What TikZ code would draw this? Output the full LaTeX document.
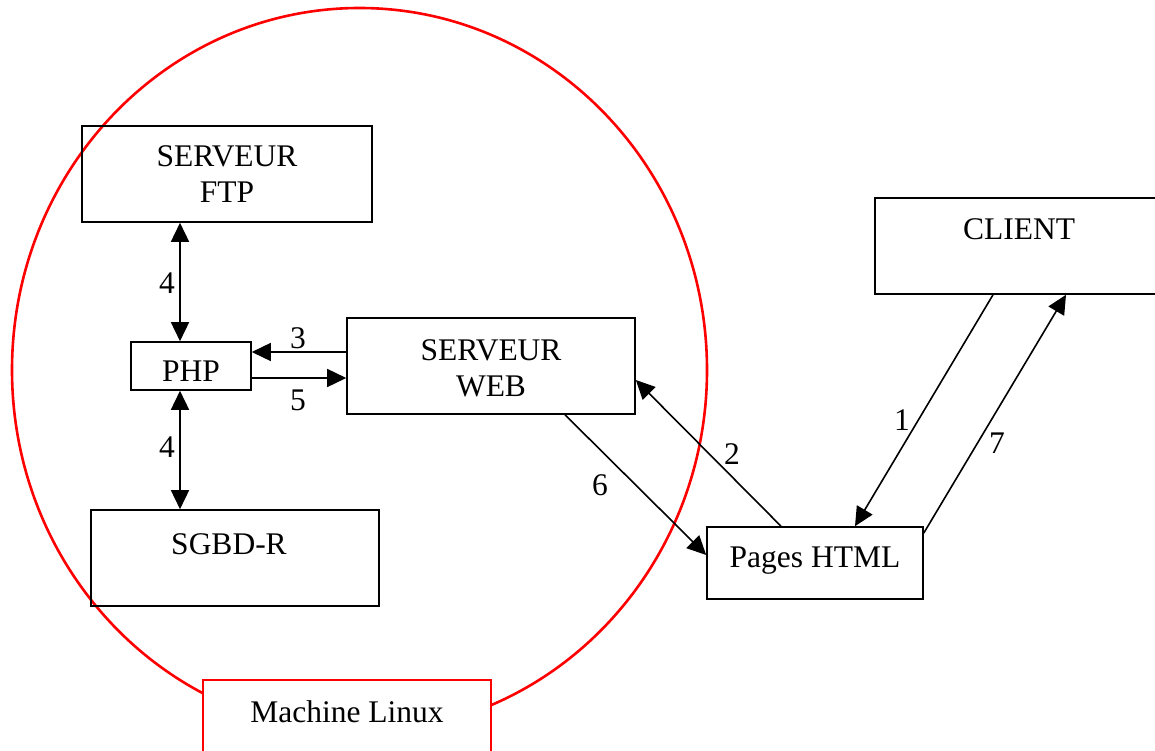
\documentclass[tikz,border=0pt]{standalone}
\usepackage{fontspec}
\setmainfont{Liberation Serif}
\usetikzlibrary{arrows.meta}

\tikzset{
  box/.style={draw=black, line width=1.6pt, inner sep=0pt},
  redbox/.style={draw=red, line width=2.6pt, fill=white, inner sep=0pt},
  txt/.style={inner sep=0pt, anchor=base, font=\fontsize{31.5}{35}\selectfont},
  num/.style={inner sep=0pt, font=\fontsize{31.5}{35}\selectfont},
  link/.style={line width=1.6pt, -{Triangle[length=19pt,width=18pt]}},
  dlink/.style={line width=1.6pt, {Triangle[length=19pt,width=18pt]}-{Triangle[length=19pt,width=18pt]}}
}

\begin{document}
\begin{tikzpicture}[x=1pt, y=-1pt]
\useasboundingbox (0,0) rectangle (1155,751);
\clip (0,0) rectangle (1155,751);

% the Linux machine boundary
\draw[red, line width=2.6pt] (359.5,370) ellipse [x radius=347.5, y radius=362];

% boxes
\node[box, minimum width=290pt, minimum height=96pt] (ftp) at (227,174) {};
\node[box, minimum width=120pt, minimum height=48pt] (php) at (191,366) {};
\node[box, minimum width=288pt, minimum height=96pt] (web) at (491,366) {};
\node[box, minimum width=288pt, minimum height=96pt] (sgbd) at (235,558) {};
\node[box, minimum width=216pt, minimum height=72pt] (html) at (815,563) {};
\node[box, minimum width=290pt, minimum height=96pt] (client) at (1020,246) {};
\node[redbox, minimum width=288pt, minimum height=96pt] (linux) at (347,728) {};

% box texts
\node[txt] at (227,167) {SERVEUR};
\node[txt] at (227,203) {FTP};
\node[txt] at (191,381) {PHP};
\node[txt] at (491,360) {SERVEUR};
\node[txt] at (491,396) {WEB};
\node[txt] at (229,554) {SGBD-R};
\node[txt] at (815,567) {Pages HTML};
\node[txt] at (1019,240) {CLIENT};
\node[txt] at (347,722) {Machine Linux};

% connectors
\draw[dlink] ([xshift=-47pt]ftp.south) -- ([xshift=-11pt]php.north);
\draw[dlink] ([xshift=-11pt]php.south) -- ([xshift=-55pt]sgbd.north);
\draw[link] ([yshift=14pt]web.west) -- ([yshift=14pt]php.east);
\draw[link] ([yshift=-12pt]php.east) -- ([yshift=-12pt]web.west);
\draw[link] ([xshift=-34pt]html.north) -- ([yshift=-14pt]web.east);
\draw[link] ([xshift=74pt]web.south) -- ([yshift=8pt]html.west);
\draw[link] ([xshift=-27pt]client.south) -- ([xshift=40pt]html.north);
\draw[link] ([yshift=30pt]html.east) -- ([xshift=46pt]client.south);

% step numbers
\node[num] at (167,283) {4};
\node[num] at (167,447) {4};
\node[num] at (298,338) {3};
\node[num] at (298,400) {5};
\node[num] at (732,454) {2};
\node[num] at (600,485) {6};
\node[num] at (902,420) {1};
\node[num] at (997,443) {7};
\end{tikzpicture}
\end{document}
